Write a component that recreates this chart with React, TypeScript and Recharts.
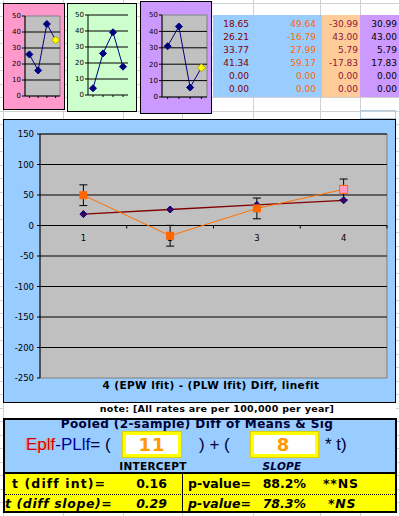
import React from "react";
import {
  ComposedChart,
  LineChart,
  Line,
  XAxis,
  YAxis,
  ReferenceArea,
  ReferenceLine,
  ReferenceDot,
  ErrorBar,
} from "recharts";

// periods on the x axis
const periods = [1, 2, 3, 4];
// main chart series (line fits)
const epFit = [18.65, 26.21, 33.77, 41.34];
const plFit = [49.64, -16.79, 27.99, 59.17];
const plErr = [17, 17, 17, 17];
// difference columns of the table
const fitDiff = [-30.99, 43.0, 5.79, -17.83];
const absDiff = [30.99, 43.0, 5.79, 17.83];
const blankRows = [0, 0];
// little charts at the top
const pinkVals = [26, 16, 45, 35];
const greenVals = [4.2, 26, 39.2, 17.7];

const mainTicks = [-250, -200, -150, -100, -50, 0, 50, 100, 150];
const mainGrid = [-200, -150, -100, -50, 50, 100, 150];
const smallTicks = [0, 10, 20, 30, 40, 50];
const smallGrid = [10, 20, 30, 40];
const catBounds = [1.5, 2.5, 3.5, 4.5];

const FONT = '"DejaVu Sans", Verdana, sans-serif';
const NAVY = "#000080";

const mainData = periods.map((p, i) => ({
  period: p,
  ep: epFit[i],
  pl: plFit[i],
  plErr: plErr[i],
}));

function Diamond({ cx, cy, r, fill, stroke }: any) {
  if (cx == null || cy == null) return null;
  return (
    <path
      d={`M${cx},${cy - r}L${cx + r},${cy}L${cx},${cy + r}L${cx - r},${cy}Z`}
      fill={fill}
      stroke={stroke}
      strokeWidth={1}
    />
  );
}

function Text({
  x,
  y,
  align = "left",
  style,
  children,
}: {
  x: number;
  y: number;
  align?: "left" | "right" | "center";
  style?: React.CSSProperties;
  children: React.ReactNode;
}) {
  const tx = align === "left" ? "0" : align === "right" ? "-100%" : "-50%";
  return (
    <div
      style={{
        position: "absolute",
        left: x,
        top: y,
        transform: `translate(${tx}, -50%)`,
        whiteSpace: "nowrap",
        lineHeight: 1,
        ...style,
      }}
    >
      {children}
    </div>
  );
}

function SmallChart({
  values,
  left,
  top,
  width,
  height,
  margin,
  yWidth,
  gray,
  yellowLast,
}: {
  values: number[];
  left: number;
  top: number;
  width: number;
  height: number;
  margin: { top: number; right: number; bottom: number; left: number };
  yWidth: number;
  gray: boolean;
  yellowLast: boolean;
}) {
  const data = periods.map((p, i) => ({ period: p, v: values[i] }));
  return (
    <div style={{ position: "absolute", left, top }}>
      <LineChart width={width} height={height} data={data} margin={margin}>
        <XAxis
          dataKey="period"
          type="number"
          domain={[0.5, 4.5]}
          ticks={periods}
          interval={0}
          height={6}
          tickFormatter={() => ""}
          tickSize={2}
          tickLine={{ stroke: "#000" }}
          axisLine={false}
        />
        <YAxis
          domain={[0, 50]}
          ticks={smallTicks}
          interval={0}
          width={yWidth}
          tickSize={3}
          tickMargin={1}
          tick={{ fontSize: 7, fill: "#000", fontFamily: FONT }}
          axisLine={{ stroke: "#000" }}
          tickLine={{ stroke: "#000" }}
        />
        {gray && (
          <ReferenceArea
            y1={0}
            y2={50}
            fill="#C0C0C0"
            fillOpacity={1}
            stroke="#808080"
            strokeWidth={1}
          />
        )}
        {smallGrid.map((g) => (
          <ReferenceLine key={g} y={g} stroke="#000" strokeWidth={1} />
        ))}
        {!gray && <ReferenceLine y={50} stroke="#000" strokeWidth={1} />}
        <ReferenceLine y={0} stroke="#000" strokeWidth={1} />
        <Line
          dataKey="v"
          stroke={NAVY}
          strokeWidth={1}
          isAnimationActive={false}
          dot={(p: any) => {
            const last = yellowLast && p.index === values.length - 1;
            return (
              <Diamond
                key={p.index}
                cx={p.cx}
                cy={p.cy}
                r={last ? 4 : 3.5}
                fill={last ? "#FFFF00" : NAVY}
                stroke={last ? "#B0A000" : NAVY}
              />
            );
          }}
        />
      </LineChart>
    </div>
  );
}

function SheetGrid() {
  const cols = [3, 63, 123, 182, 253, 320, 360];
  const rows: number[] = [];
  for (let y = 2.5; y < 516; y += 13.5) rows.push(y);
  return (
    <svg
      width={399}
      height={516}
      style={{ position: "absolute", left: 0, top: 0 }}
    >
      {cols.map((x) => (
        <line key={`c${x}`} x1={x + 0.5} x2={x + 0.5} y1={0} y2={516} stroke="#D0D0D0" />
      ))}
      {rows.map((y) => (
        <line key={`r${y}`} x1={0} x2={399} y1={Math.round(y) + 0.5} y2={Math.round(y) + 0.5} stroke="#D0D0D0" />
      ))}
    </svg>
  );
}

function fmt(v: number) {
  return v.toFixed(2);
}

export default function App() {
  const tableCols = [
    { vals: [...epFit, ...blankRows], right: 249, color: "#800000" },
    { vals: [...plFit, ...blankRows], right: 316, color: "#FF6600" },
    { vals: [...fitDiff, ...blankRows], right: 358, color: "#8B1538" },
    { vals: [...absDiff, ...blankRows], right: 397, color: "#000" },
  ];

  const bold: React.CSSProperties = { fontWeight: "bold", fontFamily: FONT };
  const row: React.CSSProperties = { ...bold, fontSize: 12.5 };
  const rowIt: React.CSSProperties = { ...row, fontStyle: "italic" };

  return (
    <div
      style={{
        position: "absolute",
        left: 0,
        top: 0,
        width: 399,
        height: 516,
        overflow: "hidden",
        background: "#fff",
        fontFamily: FONT,
      }}
    >
      <SheetGrid />

      {/* little chart panels */}
      <div style={{ position: "absolute", left: 3, top: 3, width: 62, height: 107, background: "#FF99CC", border: "1px solid #000", boxSizing: "border-box" }} />
      <div style={{ position: "absolute", left: 67, top: 3, width: 70, height: 109, background: "#CCFFCC", border: "1px solid #000", boxSizing: "border-box" }} />
      <div style={{ position: "absolute", left: 140, top: 1, width: 72, height: 113, background: "#CC99FF", border: "1px solid #000", boxSizing: "border-box" }} />

      <SmallChart
        values={pinkVals}
        left={3}
        top={3}
        width={62}
        height={107}
        yWidth={18}
        margin={{ top: 13, right: 5, bottom: 8, left: 4 }}
        gray
        yellowLast
      />
      <SmallChart
        values={greenVals}
        left={67}
        top={3}
        width={70}
        height={109}
        yWidth={17}
        margin={{ top: 12, right: 9, bottom: 11, left: 4 }}
        gray={false}
        yellowLast={false}
      />
      <SmallChart
        values={absDiff}
        left={140}
        top={1}
        width={72}
        height={113}
        yWidth={17}
        margin={{ top: 14, right: 5, bottom: 11, left: 5 }}
        gray
        yellowLast
      />

      {/* value table */}
      <div style={{ position: "absolute", left: 213, top: 15, width: 109, height: 82, background: "#99CCFF" }} />
      <div style={{ position: "absolute", left: 322, top: 15, width: 38, height: 82, background: "#FFCC99" }} />
      <div style={{ position: "absolute", left: 360, top: 15, width: 39, height: 82, background: "#CC99FF" }} />
      {tableCols.map((col, ci) =>
        col.vals.map((v, ri) => (
          <Text
            key={`${ci}-${ri}`}
            x={col.right}
            y={24 + ri * 13}
            align="right"
            style={{ fontSize: 9, color: col.color }}
          >
            {fmt(v)}
          </Text>
        ))
      )}
      <div style={{ position: "absolute", left: 360, top: 110, width: 36, height: 9, border: "1px solid #A8CCE8", boxSizing: "border-box" }} />

      {/* main chart panel */}
      <div style={{ position: "absolute", left: 3, top: 119, width: 393, height: 284, background: "#99CCFF", border: "1px solid #000", boxSizing: "border-box" }} />
      <div style={{ position: "absolute", left: 3, top: 119 }}>
        <ComposedChart
          width={393}
          height={284}
          data={mainData}
          margin={{ top: 15, right: 9, bottom: 25, left: 7 }}
        >
          <XAxis
            dataKey="period"
            type="number"
            domain={[0.5, 4.5]}
            allowDataOverflow
            hide
          />
          <YAxis
            domain={[-250, 150]}
            ticks={mainTicks}
            interval={0}
            allowDataOverflow
            width={30}
            tickSize={3}
            tickMargin={3}
            tick={{ fontSize: 8.5, fill: "#000", fontFamily: FONT }}
            axisLine={{ stroke: "#000" }}
            tickLine={{ stroke: "#000" }}
          />
          <ReferenceArea
            y1={-250}
            y2={150}
            fill="#C0C0C0"
            fillOpacity={1}
            stroke="#808080"
            strokeWidth={1}
          />
          {mainGrid.map((g) => (
            <ReferenceLine key={g} y={g} stroke="#000" strokeWidth={1} />
          ))}
          <ReferenceLine y={0} stroke="#000" strokeWidth={1} />
          {catBounds.map((b) => (
            <ReferenceDot
              key={`b${b}`}
              x={b}
              y={0}
              r={0}
              shape={(p: any) => (
                <line x1={p.cx} x2={p.cx} y1={p.cy} y2={p.cy + 3} stroke="#000" />
              )}
            />
          ))}
          {periods.map((p) => (
            <ReferenceDot
              key={`l${p}`}
              x={p}
              y={0}
              r={0}
              shape={(d: any) => (
                <text
                  x={d.cx}
                  y={d.cy + 15}
                  textAnchor="middle"
                  fontSize={8.5}
                  fontFamily={FONT}
                  fill="#000"
                >
                  {p}
                </text>
              )}
            />
          ))}
          <Line
            dataKey="ep"
            stroke="#800000"
            strokeWidth={1.3}
            isAnimationActive={false}
            dot={(p: any) => (
              <Diamond
                key={p.index}
                cx={p.cx}
                cy={p.cy}
                r={3.5}
                fill="#400060"
                stroke={NAVY}
              />
            )}
          />
          <Line
            dataKey="pl"
            stroke="#FF7000"
            strokeWidth={1}
            isAnimationActive={false}
            dot={(p: any) => {
              const last = p.index === plFit.length - 1;
              const s = last ? 4 : 3.5;
              return (
                <rect
                  key={p.index}
                  x={p.cx - s}
                  y={p.cy - s}
                  width={s * 2}
                  height={s * 2}
                  fill={last ? "#FF99CC" : "#FF6600"}
                  stroke="#FF6600"
                  strokeWidth={1}
                />
              );
            }}
          >
            <ErrorBar dataKey="plErr" width={4} stroke="#000" strokeWidth={1} direction="y" />
          </Line>
        </ComposedChart>
      </div>
      <Text x={211} y={385} align="center" style={{ ...bold, fontSize: 10.5, letterSpacing: 0.4 }}>
        4 (EPW lfit) - (PLW lfit) Diff, linefit
      </Text>

      {/* note row */}
      <div style={{ position: "absolute", left: 4, top: 403, width: 392, height: 15, background: "#fff" }} />
      <Text x={217} y={409} align="center" style={{ ...bold, fontSize: 9.5, letterSpacing: 0.3 }}>
        note: [All rates are per 100,000 per year]
      </Text>

      {/* formula box */}
      <div style={{ position: "absolute", left: 3, top: 418, width: 394, height: 56, background: "#99CCFF", border: "2px solid #000", boxSizing: "border-box" }} />
      <Text x={197} y={424} align="center" style={{ ...bold, fontSize: 12, color: "#000033", letterSpacing: 0.4 }}>
        Pooled (2-sample) Diff of Means &amp; Sig
      </Text>
      <Text x={26} y={444} style={{ fontFamily: '"Liberation Sans", Arial, sans-serif', fontSize: 17 }}>
        <span style={{ color: "#CC0000", textShadow: "-1.5px 0 #FF9999" }}>Eplf</span>
        <span style={{ color: "#000099" }}>-PLlf</span>
        <span style={{ color: "#000033" }}>= (</span>
      </Text>
      <div style={{ position: "absolute", left: 123, top: 432, width: 58, height: 25, background: "#fff", border: "3px solid #FFFF00", outline: "1px solid #E0D000", boxSizing: "border-box" }} />
      <Text x={152} y={445} align="center" style={{ ...bold, fontSize: 18, color: "#FF9900", letterSpacing: 1 }}>
        11
      </Text>
      <Text x={199} y={444} style={{ fontFamily: '"Liberation Sans", Arial, sans-serif', fontSize: 17, color: "#000033" }}>
        ) + (
      </Text>
      <div style={{ position: "absolute", left: 251, top: 432, width: 67, height: 25, background: "#fff", border: "3px solid #FFFF00", outline: "1px solid #E0D000", boxSizing: "border-box" }} />
      <Text x={283} y={445} align="center" style={{ ...bold, fontSize: 18, color: "#FF9900" }}>
        8
      </Text>
      <Text x={325} y={444} style={{ fontFamily: '"Liberation Sans", Arial, sans-serif', fontSize: 17, color: "#000033" }}>
        * t)
      </Text>
      <Text x={153} y={466} align="center" style={{ ...bold, fontSize: 10.5, letterSpacing: 0.3 }}>
        INTERCEPT
      </Text>
      <Text x={282} y={466} align="center" style={{ ...bold, fontSize: 10.5, fontStyle: "italic", color: "#000033", letterSpacing: 0.3 }}>
        SLOPE
      </Text>

      {/* t / p table */}
      <div style={{ position: "absolute", left: 3, top: 472, width: 394, height: 41, background: "#FFFF00", border: "2px solid #000", boxSizing: "border-box" }} />
      <div style={{ position: "absolute", left: 182, top: 473, width: 1, height: 39, background: "#000" }} />
      <div style={{ position: "absolute", left: 5, top: 494, width: 390, height: 0, borderTop: "1px dotted #000" }} />
      <Text x={12} y={484} style={{ ...row, letterSpacing: 1.1 }}>t (diff int)=</Text>
      <Text x={167} y={484} align="right" style={row}>0.16</Text>
      <Text x={188} y={484} style={row}>p-value=</Text>
      <Text x={306} y={484} align="right" style={row}>88.2%</Text>
      <Text x={323} y={484} style={{ ...row, letterSpacing: 0.8 }}>**NS</Text>
      <Text x={5} y={504} style={{ ...rowIt, letterSpacing: 0.6 }}>t (diff slope)=</Text>
      <Text x={167} y={504} align="right" style={rowIt}>0.29</Text>
      <Text x={188} y={504} style={rowIt}>p-value=</Text>
      <Text x={306} y={504} align="right" style={rowIt}>78.3%</Text>
      <Text x={328} y={504} style={{ ...rowIt, letterSpacing: 0.8 }}>*NS</Text>
    </div>
  );
}
